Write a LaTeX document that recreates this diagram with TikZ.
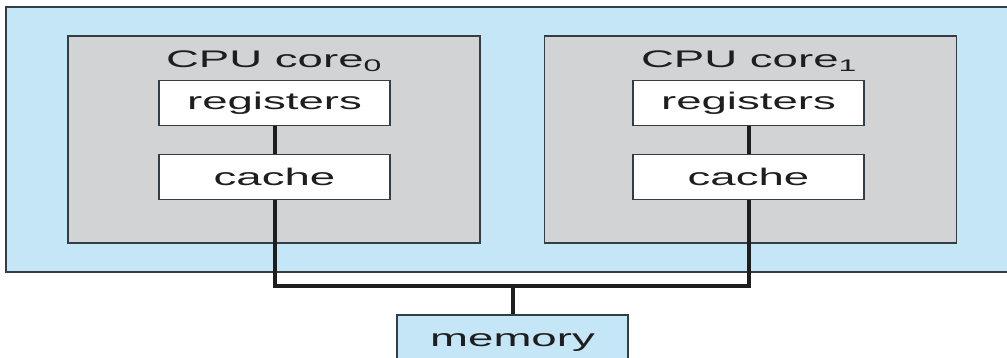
\documentclass[tikz,border=0pt]{standalone}
\usepackage{fontspec}
\setmainfont[FakeStretch=1.9]{Liberation Sans}
\usetikzlibrary{positioning}
\definecolor{chipblue}{RGB}{197,230,247}
\definecolor{coregray}{RGB}{209,211,213}
\definecolor{edgegray}{RGB}{50,62,68}
\definecolor{inkdark}{RGB}{30,30,30}

\begin{document}
\begin{tikzpicture}[x=1pt,y=-1pt,node distance=28pt,
  chip/.style={rectangle,draw=edgegray,fill=chipblue,line width=1.5pt,minimum width=1014pt,minimum height=265pt,inner sep=0pt},
  core/.style={rectangle,draw=edgegray,fill=coregray,line width=1.5pt,minimum width=412pt,minimum height=207pt,inner sep=0pt},
  unit/.style={rectangle,draw=edgegray,fill=white,line width=1.2pt,minimum width=231pt,minimum height=45pt,inner sep=0pt,text=inkdark,font=\fontsize{24}{28}\selectfont},
  title/.style={anchor=base,text=inkdark,font=\fontsize{24}{28}\selectfont},
  bus/.style={line width=4pt,draw=inkdark}]

  \useasboundingbox (0,0) rectangle (1007,358);
  \clip (0,0) rectangle (1007,358);

  % chip with two cores
  \node[chip] (chip) at (513,139.5) {};
  \node[core] (core0) at (274,139.5) {};
  \node[core] (core1) [right=63pt of core0] {};

  \node[title] (name0) at (274,68) {CPU core\textsubscript{0}};
  \node[title] (name1) at (749,68) {CPU core\textsubscript{1}};

  \node[unit] (reg0) at (274.5,103) {registers};
  \node[unit] (cache0) [below=of reg0] {cache};
  \node[unit] (reg1) at (748.5,103) {registers};
  \node[unit] (cache1) [below=of reg1] {cache};

  % main memory, cut off by the page edge
  \node[unit,fill=chipblue,minimum height=56pt] (mem) at (512.5,343) {memory};

  \coordinate (busy) at (0,286);
  \draw[bus] (reg0) -- (cache0);
  \draw[bus] (reg1) -- (cache1);
  \draw[bus] (cache0.south) |- (busy -| cache1.south) -- (cache1.south);
  \draw[bus] (mem.north) -- (mem.north |- busy);
\end{tikzpicture}
\end{document}
